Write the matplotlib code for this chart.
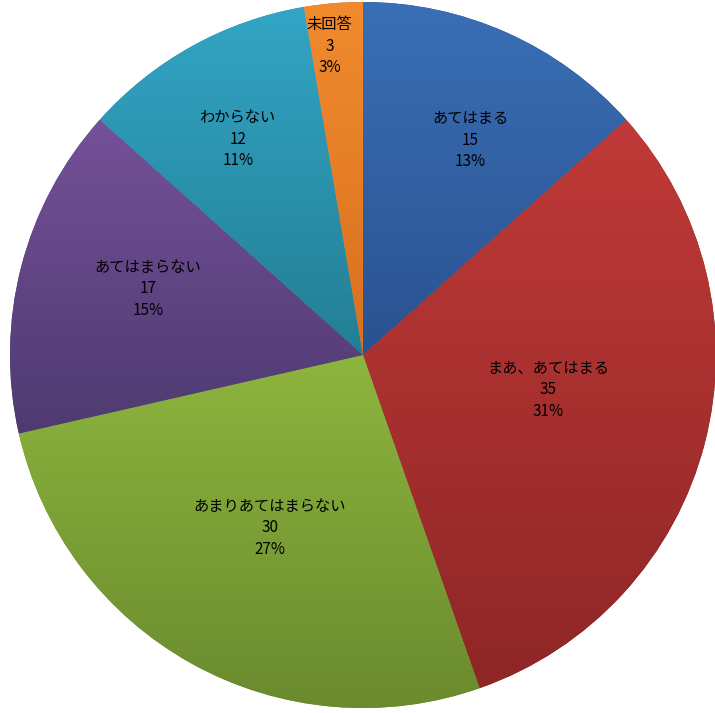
import numpy as np
import matplotlib.pyplot as plt
from matplotlib.colors import LinearSegmentedColormap

plt.rcParams['font.family'] = ['Noto Sans CJK JP', 'DejaVu Sans']

labels = ['あてはまる', 'まあ、あてはまる', 'あまりあてはまらない', 'あてはまらない', 'わからない', '未回答']
counts = [15, 35, 30, 17, 12, 3]

# top / bottom colours of each slice gradient
top_cols = ['#3a6fb6', '#c03a38', '#8db53e', '#755199', '#33a5c5', '#f18b2d']
bot_cols = ['#2a5290', '#8e2626', '#6a8a2e', '#4e3a70', '#237e94', '#d8701f']
# label placement: radius fraction and angle shift (deg) from slice middle
label_r = [0.68, 0.533, 0.556, 0.637, 0.707, 0.88]
label_da = [-2.4, 3.8, 0.6, -2.7, 1.2, 1.3]

fig = plt.figure(figsize=(7.15, 7.13), dpi=100)
ax = fig.add_axes([10 / 715, 5 / 713, 706 / 715, 706 / 713])

wedges, _ = ax.pie(counts, startangle=90, counterclock=False, radius=1,
                   colors=bot_cols, wedgeprops=dict(linewidth=0))

total = sum(counts)
grad = np.linspace(1, 0, 256).reshape(-1, 1)
for i, w in enumerate(wedges):
    verts = w.get_path().vertices
    x0, x1 = verts[:, 0].min(), verts[:, 0].max()
    y0, y1 = verts[:, 1].min(), verts[:, 1].max()
    cmap = LinearSegmentedColormap.from_list('g%d' % i, [bot_cols[i], top_cols[i]])
    im = ax.imshow(grad, cmap=cmap, extent=[x0, x1, y0, y1], aspect='auto',
                   interpolation='bilinear', origin='upper', zorder=1.5)
    im.set_clip_path(w)

    ang = np.deg2rad((w.theta1 + w.theta2) / 2 + label_da[i])
    r = label_r[i]
    pct = round(counts[i] / total * 100)
    ax.text(r * np.cos(ang), r * np.sin(ang),
            '%s\n%d\n%d%%' % (labels[i], counts[i], pct),
            ha='center', va='center', fontsize=11, linespacing=1.35,
            color='black', zorder=3)

ax.set_xlim(-1, 1)
ax.set_ylim(-1, 1)
ax.set_aspect('auto')
ax.axis('off')

fig.savefig('out.png', dpi=100)
